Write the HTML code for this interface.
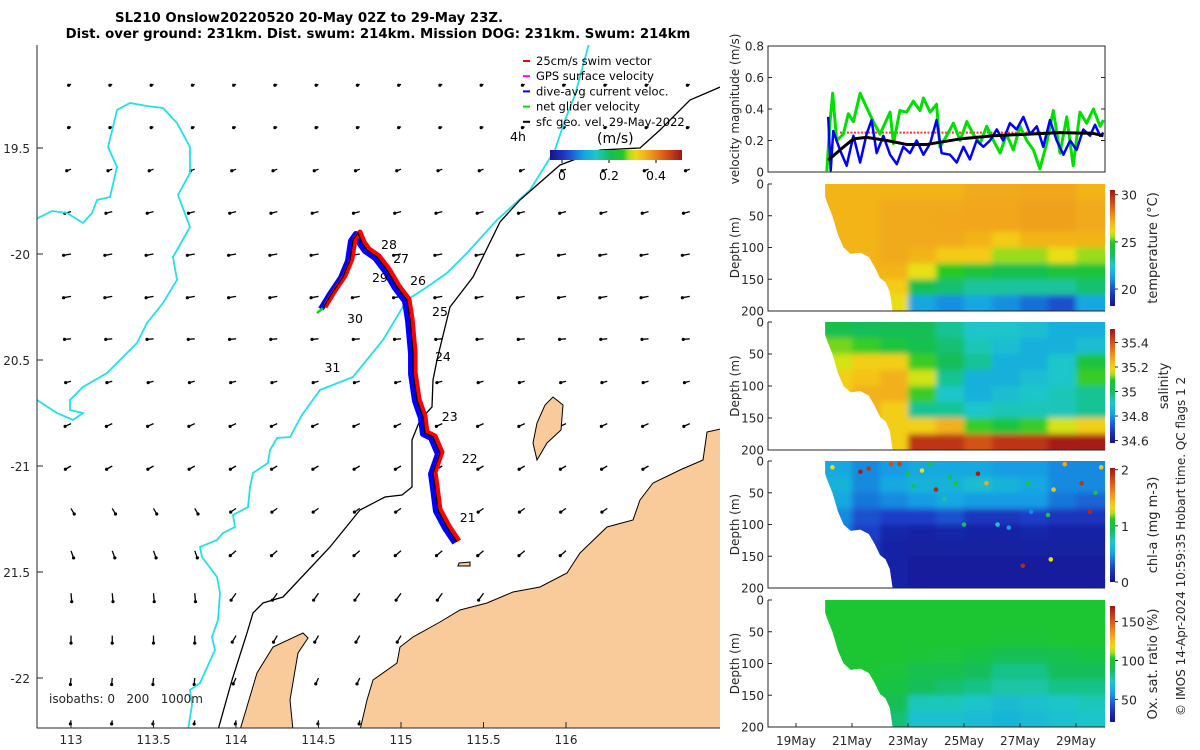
<!DOCTYPE html>
<html><head><meta charset="utf-8"><style>
html,body{margin:0;padding:0;background:#fff;}
svg{display:block;font-family:"DejaVu Sans","Liberation Sans",sans-serif;}
.tk{font-size:12px;fill:#262626;}
</style></head><body>
<svg id="root" width="1200" height="750" viewBox="0 0 1200 750" xmlns="http://www.w3.org/2000/svg">
<defs>
<clipPath id="mapClip"><rect x="37" y="45" width="683" height="683"/></clipPath>
<filter id="soft" x="-5%" y="-5%" width="110%" height="110%"><feGaussianBlur stdDeviation="3"/></filter>
</defs>
<g font-weight="bold" font-size="13.3" fill="#000">
<text x="115" y="22">SL210 Onslow20220520 20-May 02Z to 29-May 23Z.</text>
<text x="378" y="38" text-anchor="middle">Dist. over ground: 231km. Dist. swum: 214km. Mission DOG: 231km. Swum: 214km</text>
</g>
<g id="map"></g>
<g id="right"></g>
<text transform="translate(1185,716) rotate(-90)" font-size="12" fill="#262626">© IMOS 14-Apr-2024 10:59:35 Hobart time. QC flags 1  2</text>
</svg>
<script>
// ---------- data ----------
const mapLonTicks=[113,113.5,114,114.5,115,115.5,116];
const mapLatTicks=[-19.5,-20,-20.5,-21,-21.5,-22];
const mapLatLabels=["19.5","-20","20.5","-21","21.5","-22"];
const arrowLons=[113,113.25,113.5,113.75,114,114.25,114.5,114.75,115,115.25,115.5,115.75,116,116.25,116.5,116.75];
const arrowLats=[-19.2,-19.4,-19.6,-19.8,-20,-20.2,-20.4,-20.6,-20.8,-21,-21.2,-21.4,-21.6,-21.8,-22,-22.2];
const arrowRowAngle=[200,200,200,195,190,190,185,195,205,210,215,220,235,240,245,260];
const arrowRowLen=[1,1,3,5,6,6,5,4,5,5,5,6,7,6,5,2];
const arrowWestAngle=[270,270,270,270,270,270,270,270,270,270,300,290,275,270,265,260];
const trackLon=[115.339,115.279,115.224,115.206,115.194,115.236,115.194,115.145,115.133,115.097,115.073,115.073,115.055,115.036,114.976,114.915,114.855,114.794,114.764,114.739,114.709,114.691,114.648,114.582,114.527];
const trackLat=[-21.358,-21.288,-21.208,-21.099,-21.033,-20.939,-20.863,-20.844,-20.769,-20.689,-20.561,-20.467,-20.311,-20.217,-20.156,-20.075,-20.014,-19.981,-19.948,-19.901,-19.934,-20.028,-20.108,-20.184,-20.255];
const dayLabels=["21","22","23","24","25","26","27","28","29","30","31"];
const dayLabelLon=[115.356,115.368,115.247,115.206,115.188,115.055,114.952,114.879,114.824,114.673,114.536];
const dayLabelLat=[-21.264,-20.986,-20.788,-20.505,-20.292,-20.146,-20.042,-19.976,-20.132,-20.325,-20.556];

const velTickVals=[0,0.2,0.4,0.6,0.8];
const greenT=[20.10,20.21,20.31,20.45,20.69,20.87,21.05,21.29,21.52,21.76,22.0,22.36,22.48,22.71,22.95,23.19,23.43,23.55,23.79,24.02,24.14,24.38,24.62,24.86,25.10,25.33,25.57,25.81,26.05,26.29,26.52,26.76,27.0,27.24,27.48,27.71,27.95,28.19,28.43,28.67,28.90,29.14,29.38,29.62,29.86,29.98];
const greenV=[0,0.31,0.5,0.2,0.24,0.37,0.32,0.5,0.41,0.32,0.24,0.38,0.18,0.39,0.38,0.45,0.39,0.47,0.38,0.43,0.16,0.23,0.31,0.2,0.32,0.24,0.18,0.29,0.2,0.12,0.24,0.14,0.29,0.2,0.14,0.02,0.18,0.39,0.12,0.35,0.04,0.38,0.31,0.4,0.29,0.33];
const blueT=[20.15,20.24,20.33,20.57,20.81,21.05,21.29,21.52,21.70,21.88,22.12,22.36,22.60,22.83,23.07,23.31,23.55,23.79,24.02,24.20,24.50,24.74,24.98,25.21,25.45,25.69,25.93,26.17,26.40,26.64,26.88,27.12,27.36,27.60,27.83,28.07,28.31,28.55,28.79,29.02,29.26,29.50,29.68,29.86,29.98];
const blueV=[0.35,0.01,0.26,0.14,0.04,0.23,0.06,0.24,0.33,0.12,0.23,0.11,0.05,0.16,0.12,0.2,0.11,0.18,0.33,0.12,0.11,0.06,0.16,0.08,0.2,0.16,0.2,0.27,0.2,0.31,0.27,0.35,0.24,0.29,0.16,0.33,0.2,0.11,0.2,0.14,0.27,0.23,0.3,0.23,0.25];
const blackT=[20.15,20.57,21.05,21.52,22.24,22.95,23.67,24.86,26.05,27.24,28.43,29.62,29.98];
const blackV=[0.075,0.14,0.21,0.22,0.2,0.175,0.175,0.21,0.23,0.24,0.25,0.245,0.23];
const redT=[20.57,29.62];
const redV=[0.25,0.25];

const heatDays=[20,21,22,23,24,25,26,27,28,29];
const depthRows=[0,25,50,75,100,125,150,175];
const depthTicks=[0,50,100,150,200];
const dateTickDays=[19,21,23,25,27,29];
const dateTickLabels=["19May","21May","23May","25May","27May","29May"];
const maskDay=[20.04,20.1,20.3,20.5,20.7,20.95,21.3,21.6,21.8,22.0,22.2,22.35,22.45];
const maskDepth=[20,28,50,80,100,110,108,115,130,148,155,170,200];
const tempData=[
[27,27,27,27,27,27,27,27],[27,27,27,27,27,27,27,27],[27,27.2,27.2,27.2,27.2,27,26.5,26],
[27,27.2,27.2,27.2,27,26,24,21.5],[27,27.2,27.3,27.2,26.5,25,23.5,21],[27.2,27.3,27.3,27,26.5,24.5,23,21.5],
[27.2,27.3,27.3,26.5,25.5,24,23,21],[27.3,27.4,27.4,27,25.5,24,23,20.5],[27.3,27.4,27.4,27,26,24.5,23,20],
[27,27.2,27.2,27,25.5,24.5,23.5,21.5]];
const salData=[
[35.02,35.12,35.15,35.2,35.2,35.2,35.2,35.2],[35.0,35.1,35.2,35.22,35.25,35.25,35.25,35.25],
[35.0,35.05,35.2,35.25,35.25,35.2,35.2,35.2],[35.0,35.02,35.1,35.15,35.1,34.95,35.2,35.45],
[34.95,34.98,35.0,34.95,34.9,34.95,35.25,35.45],[34.9,34.92,34.95,34.85,34.85,34.9,35.1,35.4],
[34.9,34.88,34.85,34.85,34.88,34.92,35.05,35.45],[34.88,34.85,34.85,34.88,34.9,34.92,35.1,35.45],
[34.85,34.85,34.9,34.9,34.92,34.92,35.15,35.5],[34.85,34.88,35.05,35.1,34.95,34.95,35.2,35.5]];
const chlData=[
[0.55,0.6,0.55,0.45,0.4,0.4,0.4,0.4],[0.45,0.45,0.4,0.3,0.25,0.2,0.2,0.2],[0.5,0.55,0.45,0.25,0.12,0.1,0.1,0.1],
[0.55,0.6,0.5,0.25,0.1,0.08,0.06,0.06],[0.55,0.6,0.55,0.3,0.12,0.08,0.06,0.06],[0.55,0.65,0.5,0.2,0.1,0.08,0.06,0.06],
[0.5,0.6,0.5,0.2,0.1,0.08,0.06,0.06],[0.5,0.55,0.5,0.25,0.12,0.08,0.06,0.06],[0.45,0.45,0.4,0.2,0.1,0.08,0.06,0.06],
[0.45,0.45,0.35,0.2,0.1,0.08,0.06,0.06]];
const oxData=[
[100,100,100,100,100,100,100,100],[100,100,100,100,100,100,100,100],[100,100,100,100,97,95,90,85],
[100,100,100,98,92,88,75,70],[100,100,100,97,92,85,75,70],[100,100,100,95,88,82,72,68],
[100,100,98,90,82,78,68,66],[100,100,98,90,82,78,70,68],[100,100,100,92,88,82,72,70],[100,100,100,95,88,82,75,72]];
const chlDotDay=[20.3,21.3,21.6,22.4,22.7,23.0,23.2,23.5,23.8,24.0,24.3,24.5,24.7,25.0,25.5,26.2,26.6,27.1,27.4,28.0,28.2,28.6,29.2,29.5,29.7,29.9,25.8,27.3,28.1];
const chlDotDepth=[10,17,12,5,5,20,40,15,5,45,60,25,35,100,20,100,105,165,80,85,45,5,35,80,50,10,35,35,155];
const chlDotVal=[1.3,2,1.9,1.8,1.85,1.0,0.9,1.3,1.0,1.95,0.8,1.0,1.1,0.9,2,0.7,0.5,1.95,0.45,0.95,1.4,1.5,1.9,1.95,1.0,1.4,1.5,1.1,1.3];
const colorbarTemp=[20,25,30], colorbarSal=[34.6,34.8,35,35.2,35.4], colorbarChl=[0,1,2], colorbarOx=[50,100,150];

// ---------- helpers ----------
const NS="http://www.w3.org/2000/svg";
function mk(tag,attrs,parent){const e=document.createElementNS(NS,tag);for(const k in attrs)e.setAttribute(k,attrs[k]);parent.appendChild(e);return e;}
const stops=[[0,[20,20,140]],[0.12,[30,60,200]],[0.25,[20,160,230]],[0.35,[30,200,200]],[0.45,[20,190,90]],[0.55,[30,200,40]],[0.62,[230,230,20]],[0.68,[245,200,20]],[0.75,[240,160,30]],[0.85,[224,100,20]],[1,[160,20,20]]];
function cmap(f){f=Math.max(0,Math.min(1,f));for(let i=1;i<stops.length;i++){if(f<=stops[i][0]){const a=stops[i-1],b=stops[i],t=(f-a[0])/(b[0]-a[0]);const c=a[1].map((v,j)=>Math.round(v+(b[1][j]-v)*t));return `rgb(${c[0]},${c[1]},${c[2]})`;}}return 'rgb(160,20,20)';}
const root=document.getElementById('root');
let gid=0;
function gradDef(vertical){const defs=root.querySelector('defs');const id='g'+(gid++);const g=mk('linearGradient',{id:id,x1:0,y1:vertical?1:0,x2:vertical?0:1,y2:0},defs);for(let i=0;i<=20;i++){mk('stop',{offset:i/20,'stop-color':cmap(i/20)},g);}return id;}

// ---------- map ----------
const map=document.getElementById('map');
const lonX=lon=>71+(lon-113)*165;
const latY=lat=>148+(-19.5-lat)*212;
const mapInner=mk('g',{'clip-path':'url(#mapClip)'},map);


const arrowG=mk('g',{},mapInner);


arrowLats.forEach((lat,r)=>{arrowLons.forEach((lon,c)=>{
  let ang=arrowRowAngle[r];
  if(r>=10&&c<=3) ang=arrowWestAngle[r];
  const L=arrowRowLen[r]+1.5;const a=ang*Math.PI/180;
  const x=lonX(lon),y=latY(lat);const ex=x+Math.cos(a)*L,ey=y-Math.sin(a)*L;
  const ar=mk('g',{},arrowG);
  
  
  mk('line',{x1:x,y1:y,x2:ex,y2:ey,stroke:'#000','stroke-width':1.3},ar);
  mk('circle',{cx:ex,cy:ey,r:1.6,fill:'#000'},ar);
});});
const cyan1="M30,222 L52,211 L67,213 L83,223 L92,213 L97,200 L110,197 L117,167 L108,147 L113,127 L117,110 L130,103 L147,106 L163,108 L177,123 L190,147 L190,173 L178,195 L190,227 L173,257 L177,280 L163,303 L147,323 L137,343 L120,360 L107,373 L83,387 L70,400 L70,410 L83,413 L73,420 L57,413 L37,400";
const cyan2="M590,40 L575,95 L565,120 L555,150 L530,190 L497,220 L467,253 L447,273 L427,287 L407,300 L383,340 L353,377 L320,390 L302,415 L290,437 L277,438 L270,450 L268,463 L253,473 L250,487 L248,507 L233,515 L235,527 L223,533 L217,540 L200,547 L202,557 L217,577 L220,593 L218,620 L212,637 L215,650 L200,683 L190,690 L192,705 L188,730";
const black1="M725,85 L690,100 L660,130 L640,148 L600,150 L560,165 L520,200 L500,222 L473,277 L450,307 L437,360 L433,380 L432,407 L420,420 L412,440 L412,487 L402,495 L385,497 L360,510 L330,547 L283,597 L263,603 L253,613 L247,633 L232,680 L218,730";
[[cyan1,'#22e0ea','isobath-0m-west'],[cyan2,'#22e0ea','isobath-200m'],[black1,'#000','isobath-1000m']].forEach(p=>{
  const e=mk('path',{d:p[0],fill:'none',stroke:p[1],'stroke-width':p[1]=='#000'?1.3:1.8},mapInner);
  
  
});
const lands=[
 ["M725,428 L707,432 L703,460 L680,470 L653,483 L640,500 L633,520 L607,527 L580,553 L567,573 L540,587 L513,592 L487,603 L460,610 L440,622 L413,637 L400,647 L397,663 L373,680 L367,700 L360,730 L725,730 Z",'mainland'],
 ["M240,730 L257,673 L273,647 L303,633 L308,638 L298,653 L290,700 L293,730 Z",'barrow-island'],
 ["M553,397 L563,405 L561,430 L547,443 L537,460 L533,443 L537,423 L545,405 Z",'island-north'],
 ["M459,563 L470,562 L470,566 L458,566 Z",'islet']
];
lands.forEach(l=>{const e=mk('path',{d:l[0],fill:'#f9ca9a',stroke:'#000','stroke-width':1},mapInner);
  
  });
const trackPts=trackLon.map((lon,i)=>lonX(lon)+','+latY(trackLat[i])).join(' ');
const tb=mk('polyline',{points:trackPts,fill:'none',stroke:'#0000ff','stroke-width':6,'stroke-linejoin':'round',transform:'translate(-2,1)'},mapInner);


const tr=mk('polyline',{points:trackPts,fill:'none',stroke:'#ff0000','stroke-width':5,'stroke-linejoin':'round',transform:'translate(2,-1)'},mapInner);


const tk=mk('polyline',{points:trackPts,fill:'none',stroke:'#000','stroke-width':1.2},mapInner);


const ge=mk('line',{x1:lonX(trackLon[24]),y1:latY(trackLat[24]),x2:lonX(trackLon[24])-6,y2:latY(trackLat[24])+5,stroke:'#00e000','stroke-width':2.5},mapInner);


dayLabels.forEach((t,i)=>{const e=mk('text',{x:lonX(dayLabelLon[i]),y:latY(dayLabelLat[i]),'font-size':12.5,fill:'#000'},mapInner);e.textContent=t;
  
  });
const ax=mk('path',{d:'M37,45 L37,728 L720,728',fill:'none',stroke:'#262626','stroke-width':1},map);


mapLonTicks.forEach(v=>{const x=lonX(v);mk('line',{x1:x,y1:728,x2:x,y2:722,stroke:'#262626'},map);
  const t=mk('text',{x:x,y:744,'text-anchor':'middle',class:'tk'},map);t.textContent=String(v);
  
  });
mapLatTicks.forEach((v,i)=>{const y=latY(v);mk('line',{x1:37,y1:y,x2:43,y2:y,stroke:'#262626'},map);
  const t=mk('text',{x:30,y:y+5,'text-anchor':'end',class:'tk'},map);t.textContent=mapLatLabels[i];
  
  });
const iso=mk('text',{x:49,y:703,class:'tk'},map);iso.textContent='isobaths: 0\u00a0\u00a0\u00a0200\u00a0\u00a0\u00a01000m';


const legG=mk('g',{},map);


const legText=['25cm/s swim vector','GPS surface velocity','dive-avg current veloc.','net glider velocity','sfc geo. vel. 29-May-2022'];
const legCol=['#ff0000','#ff00ff','#0000ff','#00e000','#000'];
legText.forEach((s,i)=>{const y=65+i*15.2;
  const en=mk('g',{},legG);
  
  
  mk('line',{x1:523,y1:y-4,x2:530,y2:y-4,stroke:legCol[i],'stroke-width':2},en);
  const t=mk('text',{x:536,y:y,'font-size':11.5,fill:'#000'},en);t.textContent=s;});
const h4=mk('text',{x:510,y:141,'font-size':12.5,fill:'#000'},map);h4.textContent='4h';


const ms=mk('text',{x:597,y:143,'font-size':14,fill:'#000'},map);ms.textContent='(m/s)';


const hg=gradDef(false);
const hcb=mk('rect',{x:550,y:150,width:132,height:10,fill:`url(#${hg})`},map);


[['0',562],['0.2',609],['0.4',656]].forEach(p=>{mk('line',{x1:p[1],y1:160,x2:p[1],y2:163,stroke:'#000'},map);
  const t=mk('text',{x:p[1],y:180,'text-anchor':'middle','font-size':12.5,fill:'#000'},map);t.textContent=p[0];
  
  });

// ---------- right panels ----------
const R=document.getElementById('right');
const X0=768,X1=1105;
const dayX=d=>X0+(d-18)*28;
const vTop=46,vBot=172;
const velY=v=>vBot-(v/0.8)*(vBot-vTop);
const vp=mk('g',{},R);


mk('rect',{x:X0,y:vTop,width:X1-X0,height:vBot-vTop,fill:'none',stroke:'#262626'},vp);
velTickVals.forEach(v=>{const y=velY(v);mk('line',{x1:X0,y1:y,x2:X0+4,y2:y,stroke:'#262626'},vp);mk('line',{x1:X1,y1:y,x2:X1-4,y2:y,stroke:'#262626'},vp);
  const t=mk('text',{x:764,y:y+4.5,'text-anchor':'end',class:'tk'},vp);t.textContent=String(v);
  
  });
const vl=mk('text',{transform:`translate(739,${(vTop+vBot)/2}) rotate(-90)`,'text-anchor':'middle',class:'tk'},vp);vl.textContent='velocity magnitude (m/s)';


function series(T,V,color,w,name,dash){const pts=T.map((t,i)=>dayX(t)+','+velY(V[i])).join(' ');
  const a={points:pts,fill:'none',stroke:color,'stroke-width':w,'stroke-linejoin':'round'};if(dash)a['stroke-dasharray']=dash;
  const e=mk('polyline',a,vp);}
series(redT,redV,'#ff3030',2,'swim-speed-line','2,1.5');
series(greenT,greenV,'#00e000',3,'net-glider-velocity-line');
series(blueT,blueV,'#0000ff',2.5,'dive-avg-current-line');
series(blackT,blackV,'#000',3,'surface-geo-velocity-line');

const panels=[
 {top:184,bot:311,data:tempData,vmin:18.2,vmax:30.5,cb:[190,306],ticks:colorbarTemp,label:'temperature (°C)',lx:1157,name:'temperature'},
 {top:322,bot:450,data:salData,vmin:34.58,vmax:35.51,cb:[329,443],ticks:colorbarSal,label:'salinity',lx:1168,name:'salinity'},
 {top:461,bot:588,data:chlData,vmin:0,vmax:2.03,cb:[468,582],ticks:colorbarChl,label:'chl-a (mg m-3)',lx:1157,name:'chlorophyll'},
 {top:600,bot:727,data:oxData,vmin:21,vmax:170,cb:[606,722],ticks:colorbarOx,label:'Ox. sat. ratio (%)',lx:1157,name:'oxygen'}
];
const vg=gradDef(true);
panels.forEach((p,pi)=>{
  const g=mk('g',{},R);
  
  
  const dY=d=>p.top+d/200*(p.bot-p.top);
  const f=v=>(v-p.vmin)/(p.vmax-p.vmin);
  const defs=root.querySelector('defs');const cid='pc'+pi;
  const cp=mk('clipPath',{id:cid},defs);
  let pts=[[dayX(20.04),dY(0)],[dayX(30.04),dY(0)],[dayX(30.04),dY(200)]];
  for(let i=maskDay.length-1;i>=0;i--)pts.push([dayX(maskDay[i]),dY(maskDepth[i])]);
  mk('polygon',{points:pts.map(q=>q.join(',')).join(' ')},cp);
  const cells=mk('g',{'clip-path':`url(#${cid})`},g);
  const inner=mk('g',{filter:'url(#soft)'},cells);
  
  
  heatDays.forEach((d,c)=>{depthRows.forEach((z,r)=>{
    const x0=dayX(c==0?19.5:d),x1=dayX(c==heatDays.length-1?30.6:d+1);
    const y0=dY(r==0?-10:z),y1=dY(r==depthRows.length-1?215:z+25);
    const cell=mk('rect',{x:x0,y:y0,width:x1-x0+0.5,height:y1-y0+0.5,fill:cmap(f(p.data[c][r]))},inner);
    
    
  });});
  if(pi==2){chlDotDay.forEach((d,i)=>{const dot=mk('circle',{cx:dayX(d),cy:dY(chlDotDepth[i]),r:2.3,fill:cmap(f(chlDotVal[i]))},cells);
    
    });}
  mk('path',{d:`M${X0},${p.top} L${X0},${p.bot} L${X1},${p.bot}`,fill:'none',stroke:'#262626'},g);
  depthTicks.forEach(z=>{const y=dY(z);mk('line',{x1:X0,y1:y,x2:X0+4,y2:y,stroke:'#262626'},g);
    const t=mk('text',{x:764,y:y+4.5,'text-anchor':'end',class:'tk'},g);t.textContent=String(z);
    
    });
  const dl=mk('text',{transform:`translate(739,${(p.top+p.bot)/2}) rotate(-90)`,'text-anchor':'middle',class:'tk'},g);dl.textContent='Depth (m)';
  
  
  const cb=mk('rect',{x:1110,y:p.cb[0],width:5,height:p.cb[1]-p.cb[0],fill:`url(#${vg})`},g);
  
  
  p.ticks.forEach(v=>{const y=p.cb[1]-f(v)*(p.cb[1]-p.cb[0]);mk('line',{x1:1115,y1:y,x2:1118,y2:y,stroke:'#262626'},g);
    const t=mk('text',{x:1121,y:y+5,'font-size':12.5,fill:'#262626'},g);t.textContent=String(v);
    
    });
  const cl=mk('text',{transform:`translate(${p.lx},${(p.cb[0]+p.cb[1])/2}) rotate(-90)`,'text-anchor':'middle','font-size':13,fill:'#262626'},g);cl.textContent=p.label;
  
  
  if(pi==3){dateTickDays.forEach((d,i)=>{const x=dayX(d);mk('line',{x1:x,y1:p.bot,x2:x,y2:p.bot-4,stroke:'#262626'},g);
    const t=mk('text',{x:x,y:745,'text-anchor':'middle',class:'tk'},g);t.textContent=dateTickLabels[i];
    
    });}
});
</script>
</body></html>
